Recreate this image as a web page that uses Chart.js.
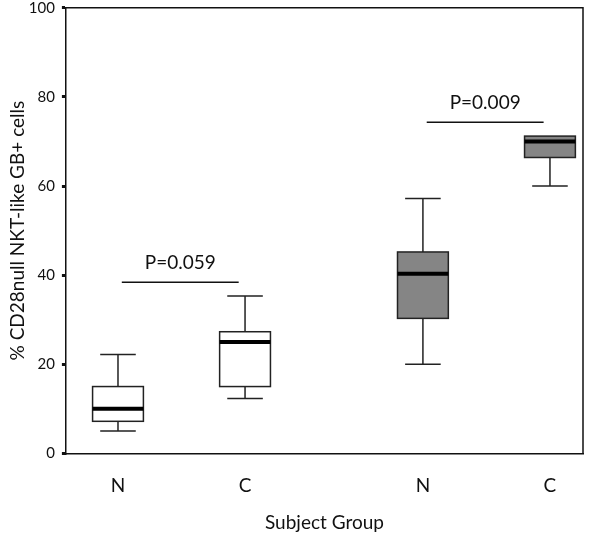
<!DOCTYPE html>
<html><head><meta charset="utf-8">
<script src="https://cdn.jsdelivr.net/npm/chart.js@4.4.0/dist/chart.umd.min.js"></script>
<style>html,body{margin:0;padding:0;background:#fff}#wrap{width:600px;height:534px}</style>
</head><body><div id="wrap"><canvas id="c"></canvas></div>
<script>
// Data
const categories = ['N', 'C', 'N', 'C'];
const positions = [1, 2, 3.4, 4.4];
const whiskerLow = [5, 12.3, 20, 60];
const q1 = [7.2, 15, 30.3, 66.4];
const median = [10, 25, 40.3, 70];
const q3 = [15, 27.3, 45.2, 71.2];
const whiskerHigh = [22.2, 35.3, 57.2, 71.2];
const groupFill = ['#ffffff', '#ffffff', '#858585', '#858585'];
const yTicks = [0, 20, 40, 60, 80, 100];
const pLabels = ['P=0.059', 'P=0.009'];
const pLevel = [38.4, 74.3];
const pFrom = [1.03, 3.43];
const pTo = [1.95, 4.35];

const FONT = 'Lato, "Open Sans", sans-serif';

const boxPlugin = {
  id: 'boxes',
  afterDatasetsDraw(chart) {
    const ctx = chart.ctx, x = chart.scales.x, y = chart.scales.y, a = chart.chartArea;
    ctx.save();
    ctx.strokeStyle = '#111';
    ctx.lineWidth = 1.5;
    ctx.beginPath();
    ctx.moveTo(a.left, a.top); ctx.lineTo(a.right, a.top); ctx.lineTo(a.right, a.bottom);
    ctx.stroke();
    const halfBox = 0.2, halfCap = 0.14;
    for (let i = 0; i < positions.length; i++) {
      const p = positions[i];
      const xl = x.getPixelForValue(p - halfBox), xr = x.getPixelForValue(p + halfBox);
      const xc = x.getPixelForValue(p);
      const cl = x.getPixelForValue(p - halfCap), cr = x.getPixelForValue(p + halfCap);
      const yq1 = y.getPixelForValue(q1[i]), yq3 = y.getPixelForValue(q3[i]);
      const ylo = y.getPixelForValue(whiskerLow[i]), yhi = y.getPixelForValue(whiskerHigh[i]);
      const ym = y.getPixelForValue(median[i]);
      ctx.strokeStyle = '#222';
      ctx.lineWidth = 1.5;
      ctx.beginPath();
      ctx.moveTo(xc, yq1); ctx.lineTo(xc, ylo);
      ctx.moveTo(cl, ylo); ctx.lineTo(cr, ylo);
      if (whiskerHigh[i] > q3[i]) {
        ctx.moveTo(xc, yq3); ctx.lineTo(xc, yhi);
        ctx.moveTo(cl, yhi); ctx.lineTo(cr, yhi);
      }
      ctx.stroke();
      ctx.fillStyle = groupFill[i];
      ctx.fillRect(xl, yq3, xr - xl, yq1 - yq3);
      ctx.strokeRect(xl, yq3, xr - xl, yq1 - yq3);
      ctx.strokeStyle = '#000';
      ctx.lineWidth = 4;
      ctx.beginPath();
      ctx.moveTo(xl, ym); ctx.lineTo(xr, ym);
      ctx.stroke();
    }
    ctx.strokeStyle = '#111';
    ctx.lineWidth = 1.5;
    ctx.fillStyle = '#111';
    ctx.font = '19px ' + FONT;
    ctx.textAlign = 'center';
    ctx.textBaseline = 'alphabetic';
    for (let j = 0; j < pLabels.length; j++) {
      const yy = y.getPixelForValue(pLevel[j]);
      const x1 = x.getPixelForValue(pFrom[j]), x2 = x.getPixelForValue(pTo[j]);
      ctx.beginPath(); ctx.moveTo(x1, yy); ctx.lineTo(x2, yy); ctx.stroke();
      ctx.fillText(pLabels[j], (x1 + x2) / 2, yy - 13);
    }
    ctx.restore();
  }
};

new Chart(document.getElementById('c'), {
  type: 'scatter',
  data: { datasets: [{ data: [], showLine: false }] },
  options: {
    responsive: true,
    maintainAspectRatio: false,
    animation: false,
    layout: { padding: { left: 6, right: 17, top: 0, bottom: 0 } },
    plugins: { legend: { display: false }, tooltip: { enabled: false } },
    scales: {
      x: {
        type: 'linear', min: 0.59, max: 4.66,
        afterBuildTicks(s) { s.ticks = positions.map(v => ({ value: v })); },
        ticks: {
          callback(v) { const i = positions.indexOf(v); return i >= 0 ? categories[i] : ''; },
          color: '#111', font: { family: FONT, size: 19 }, padding: 21, maxRotation: 0, autoSkip: false
        },
        grid: { display: false, drawTicks: false },
        border: { display: true, color: '#111', width: 1.5 },
        title: { display: true, text: 'Subject Group', color: '#111', font: { family: FONT, size: 19 }, padding: { top: -7, bottom: 0 } }
      },
      y: {
        min: 0, max: 100,
        afterBuildTicks(s) { s.ticks = yTicks.map(v => ({ value: v })); },
        ticks: { color: '#111', font: { family: FONT, size: 15, lineHeight: 0.1 }, padding: 7, autoSkip: false },
        grid: { drawOnChartArea: false, drawTicks: true, tickLength: 4, color: '#111', lineWidth: 3 },
        border: { display: true, color: '#111', width: 1.5 },
        title: { display: true, text: '% CD28null NKT-like GB+ cells', color: '#111', font: { family: FONT, size: 19 }, padding: { top: 0, bottom: -7 } }
      }
    }
  },
  plugins: [boxPlugin]
});
</script>
</body></html>
